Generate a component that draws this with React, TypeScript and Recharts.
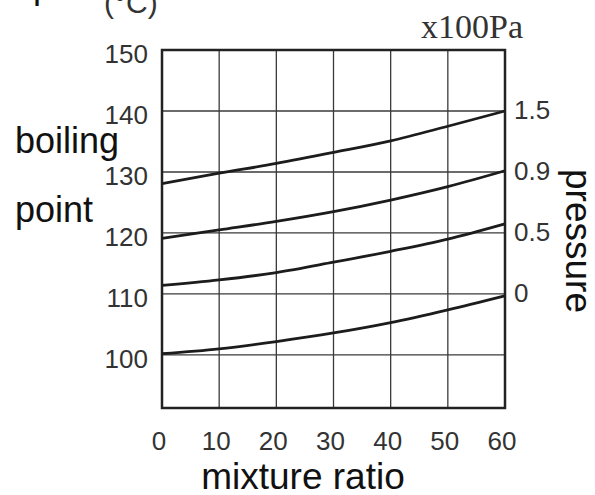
import React from 'react'
import {
  LineChart, Line, XAxis, YAxis, CartesianGrid, ReferenceArea
} from 'recharts'

// mixture ratio (x) and boiling point curves, one per pressure level
const ratios = [0, 10, 20, 30, 40, 50, 60]
const curveP0 = [100.2, 101.0, 102.2, 103.6, 105.3, 107.4, 109.7]
const curveP05 = [111.4, 112.3, 113.5, 115.2, 117.0, 119.0, 121.5]
const curveP09 = [119.1, 120.5, 121.9, 123.5, 125.4, 127.6, 130.2]
const curveP15 = [128.1, 129.8, 131.4, 133.2, 135.1, 137.5, 140.0]

const tempTicks = [100, 110, 120, 130, 140, 150]
const pressureTicks = [110, 120, 130, 140]
const pressureLabels = ['0', '0.5', '0.9', '1.5']

const data = ratios.map((r, i) => ({
  ratio: r,
  p0: curveP0[i],
  p05: curveP05[i],
  p09: curveP09[i],
  p15: curveP15[i],
}))

const SANS = 'Liberation Sans, Arial, Helvetica, sans-serif'
const TICK_COLOR = '#333'
const CURVE = '#1c1c1c'

function LeftTick({ x, y, payload }: any) {
  return (
    <text x={x} y={y + 4} dy="0.355em" textAnchor="end" fontFamily={SANS} fontSize={26} fill={TICK_COLOR}>
      {payload.value}
    </text>
  )
}

function RightTick({ x, y, payload }: any) {
  const idx = pressureTicks.indexOf(payload.value)
  return (
    <text x={x} y={y - 1} dy="0.355em" textAnchor="start" fontFamily={SANS} fontSize={26} fill={TICK_COLOR}>
      {pressureLabels[idx]}
    </text>
  )
}

function BottomTick({ x, y, payload }: any) {
  return (
    <text x={x - 3} y={y} dy="0.75em" textAnchor="middle" fontFamily={SANS} fontSize={26} fill={TICK_COLOR}>
      {payload.value}
    </text>
  )
}

export default function App() {
  return (
    <div style={{ position: 'absolute', left: 0, top: 0, width: 595, height: 495, background: '#fff' }}>
      <LineChart width={595} height={495} data={data} margin={{ top: 50, right: 0, bottom: 0, left: 0 }}>
        <CartesianGrid yAxisId="left" stroke="#3a3a3a" strokeWidth={1.3} ticks={tempTicks as any} />
        <XAxis
          dataKey="ratio" type="number" domain={[0, 60]} ticks={ratios}
          height={87} axisLine={false} tickLine={false} tickSize={0} tickMargin={22}
          tick={<BottomTick />} interval={0}
        />
        <YAxis
          yAxisId="left" type="number" domain={[91.3, 150]} ticks={tempTicks} allowDataOverflow
          width={162} axisLine={false} tickLine={false} tickSize={0} tickMargin={14}
          tick={<LeftTick />} interval={0}
        />
        <YAxis
          yAxisId="right" orientation="right" type="number" domain={[91.3, 150]} ticks={pressureTicks} allowDataOverflow
          width={90} axisLine={false} tickLine={false} tickSize={0} tickMargin={9}
          tick={<RightTick />} interval={0}
        />
        <ReferenceArea yAxisId="left" x1={0} x2={60} y1={91.3} y2={150} fill="none" stroke="#222" strokeWidth={2.5} ifOverflow="visible" />
        <Line yAxisId="left" type="monotone" dataKey="p0" stroke={CURVE} strokeWidth={2.8} dot={false} isAnimationActive={false} />
        <Line yAxisId="left" type="monotone" dataKey="p05" stroke={CURVE} strokeWidth={2.8} dot={false} isAnimationActive={false} />
        <Line yAxisId="left" type="monotone" dataKey="p09" stroke={CURVE} strokeWidth={2.8} dot={false} isAnimationActive={false} />
        <Line yAxisId="left" type="monotone" dataKey="p15" stroke={CURVE} strokeWidth={2.8} dot={false} isAnimationActive={false} />
      </LineChart>
      <svg width={595} height={495} style={{ position: 'absolute', left: 0, top: 0, pointerEvents: 'none' }}>
        <text x={-27} y={-2} fontFamily={SANS} fontSize={36} fill="#111">temp</text>
        <text x={104} y={13} fontFamily={SANS} fontSize={30} fill="#333">(°C)</text>
        <text x={421} y={38} fontFamily="Liberation Serif, Times New Roman, serif" fontSize={34} fill="#333">x100Pa</text>
        <text x={15} y={153} fontFamily={SANS} fontSize={36} fill="#111">boiling</text>
        <text x={15} y={222} fontFamily={SANS} fontSize={36} fill="#111">point</text>
        <text x={303} y={489} textAnchor="middle" fontFamily={SANS} fontSize={37} fill="#111">mixture ratio</text>
        <text transform="translate(566,241) rotate(90)" textAnchor="middle" fontFamily={SANS} fontSize={37} fill="#111">pressure</text>
      </svg>
    </div>
  )
}
